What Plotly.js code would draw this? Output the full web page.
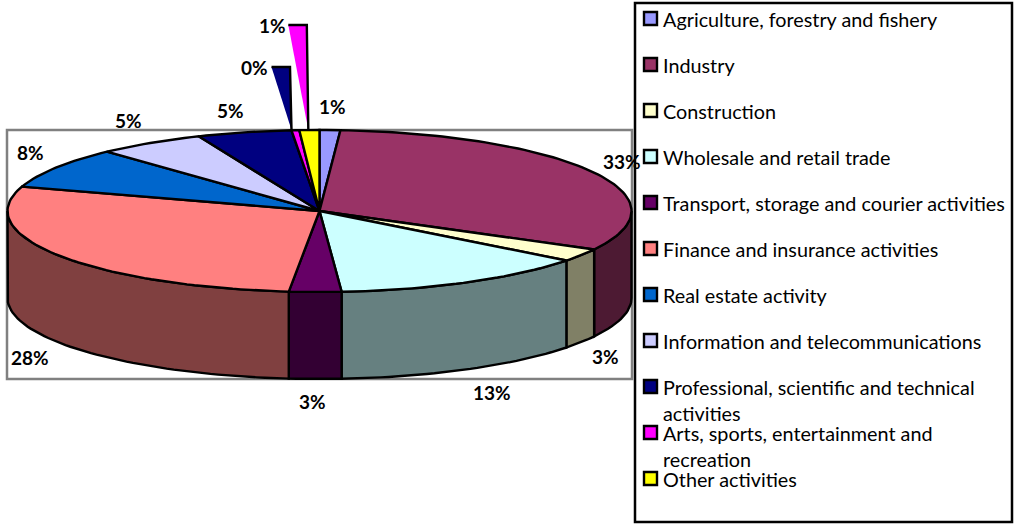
<!DOCTYPE html>
<html>
<head>
<meta charset="utf-8">
<script src="https://cdn.plot.ly/plotly-3.0.1.min.js"></script>
<style>html,body{margin:0;padding:0;background:#fff}#chart{width:1017px;height:524px}</style>
</head>
<body>
<div id="chart"></div>
<script>
// ---- data ----
var categories = ['Agriculture, forestry and fishery','Industry','Construction','Wholesale and retail trade',
  'Transport, storage and courier activities','Finance and insurance activities','Real estate activity',
  'Information and telecommunications','Professional, scientific and technical<br>activities',
  'Arts, sports, entertainment and<br>recreation','Other activities'];
// drawn share of each slice (measured from the ellipse, percent)
var shares = [1.07,31.8,2.6,13.4,2.7,28.3,8.2,5.6,4.9,0.4,1.03];
// percentages as printed on the chart
var printed = [1,33,3,13,3,28,8,5,5,0,1];
var topColors = ['#9999FF','#993366','#FFFFCC','#CCFFFF','#660066','#FF8080','#0066CC','#CCCCFF','#000080','#FF00FF','#FFFF00'];
var sideColors = ['#4D4D80','#4D1A33','#808066','#668080','#330033','#804040','#003366','#666680','#000040','#800080','#808000'];

// ---- pie geometry ----
var cx=319.5, cy=211, rx=312, ry=81, depth=87, outline='#000000', lw=2.4;
function pt(a,dy){var r=a*Math.PI/180;return [cx+rx*Math.sin(r), cy-ry*Math.cos(r)+(dy||0)];}
function arc(a0,a1,dy){var n=Math.max(2,Math.ceil(Math.abs(a1-a0)/1.5)),o=[];
  for(var i=0;i<=n;i++){o.push(pt(a0+(a1-a0)*i/n,dy));}return o;}
var total=shares.reduce(function(a,b){return a+b;},0), bounds=[0];
shares.forEach(function(s,i){bounds.push(bounds[i]+s/total*360);});

function poly(points,fill,name,line){
  var xs=points.map(function(p){return p[0];}),ys=points.map(function(p){return p[1];});
  return {type:'scatter',mode:line===false?'none':'lines',x:xs,y:ys,fill:'toself',fillcolor:fill,name:name,
    line:{color:outline,width:lw},hoverinfo:'name',showlegend:false};
}
var traces=[];

// callout wedges above the pie (last two categories)
var wedgeTips=[bounds[9],(bounds[10]+bounds[11])/2-0.2], wedgeTopY=[67,25], wedgeFill=['#000080','#FF00FF'];
wedgeTips.forEach(function(a,i){
  var tx=pt(a)[0], ty=130, t=wedgeTopY[i];
  var shape=[[tx,ty],[tx-20,t],[tx-1.5,t]];
  traces.push(poly(shape.concat([shape[0]]),wedgeFill[i],categories[9+i],false));
  traces.push({type:'scatter',mode:'lines',x:[tx-20,tx-1.5,tx],y:[t,t,ty],line:{color:outline,width:lw},hoverinfo:'skip',showlegend:false});
});

// visible outer wall (front half)
shares.forEach(function(s,i){
  var a0=Math.max(bounds[i],90), a1=Math.min(bounds[i+1],270);
  if(a1<=a0) return;
  var p=arc(a0,a1,0).concat(arc(a1,a0,depth)); p.push(p[0]);
  traces.push(poly(p,sideColors[i],categories[i]));
});
// top surface
shares.forEach(function(s,i){
  var p=[[cx,cy]].concat(arc(bounds[i],bounds[i+1],0)); p.push([cx,cy]);
  traces.push(poly(p,topColors[i],categories[i]));
});

// legend swatches
var legendX=650.5, legendTop=18.5, legendStep=46;
traces.push({type:'scatter',mode:'markers',
  x:categories.map(function(){return legendX;}),
  y:categories.map(function(c,i){return legendTop+i*legendStep;}),
  marker:{symbol:'square',size:13,color:topColors,line:{color:outline,width:2.4}},
  hoverinfo:'skip',showlegend:false});

// ---- text ----
var font='Lato, Carlito, sans-serif';
var labelX=[332,622,605,492,312,30,30,128,230,254,272];
var labelY=[106,161,356,392,401,357,152,120,110,67,25];
var annotations=printed.map(function(v,i){
  return {x:labelX[i],y:labelY[i],xref:'x',yref:'y',text:'<b>'+v+'%</b>',showarrow:false,
    xanchor:'center',yanchor:'middle',font:{family:font,size:19,color:'#000'}};
});
categories.forEach(function(c,i){
  var wrapped=c.indexOf('<br>')>=0;
  annotations.push({x:660.5,y:legendTop+0.5+i*legendStep+(wrapped?13:0),xref:'x',yref:'y',text:c,showarrow:false,
    xanchor:'left',yanchor:'middle',align:'left',font:{family:font,size:19.8,color:'#000'}});
});

var layout={
  width:1017,height:524,margin:{l:0,r:0,t:0,b:0},paper_bgcolor:'#fff',plot_bgcolor:'#fff',showlegend:false,
  xaxis:{range:[0,1017],visible:false,fixedrange:true},
  yaxis:{range:[524,0],visible:false,fixedrange:true},
  shapes:[
    {type:'rect',layer:'below',xref:'x',yref:'y',x0:7,x1:632,y0:130,y1:379,line:{color:'#808080',width:2.5},fillcolor:'rgba(0,0,0,0)'},
    {type:'rect',layer:'below',xref:'x',yref:'y',x0:635,x1:1012,y0:3,y1:522,line:{color:'#000',width:2.5},fillcolor:'#fff'}
  ],
  annotations:annotations
};
Plotly.newPlot('chart',traces,layout,{displayModeBar:false,responsive:false});
</script>
</body>
</html>
